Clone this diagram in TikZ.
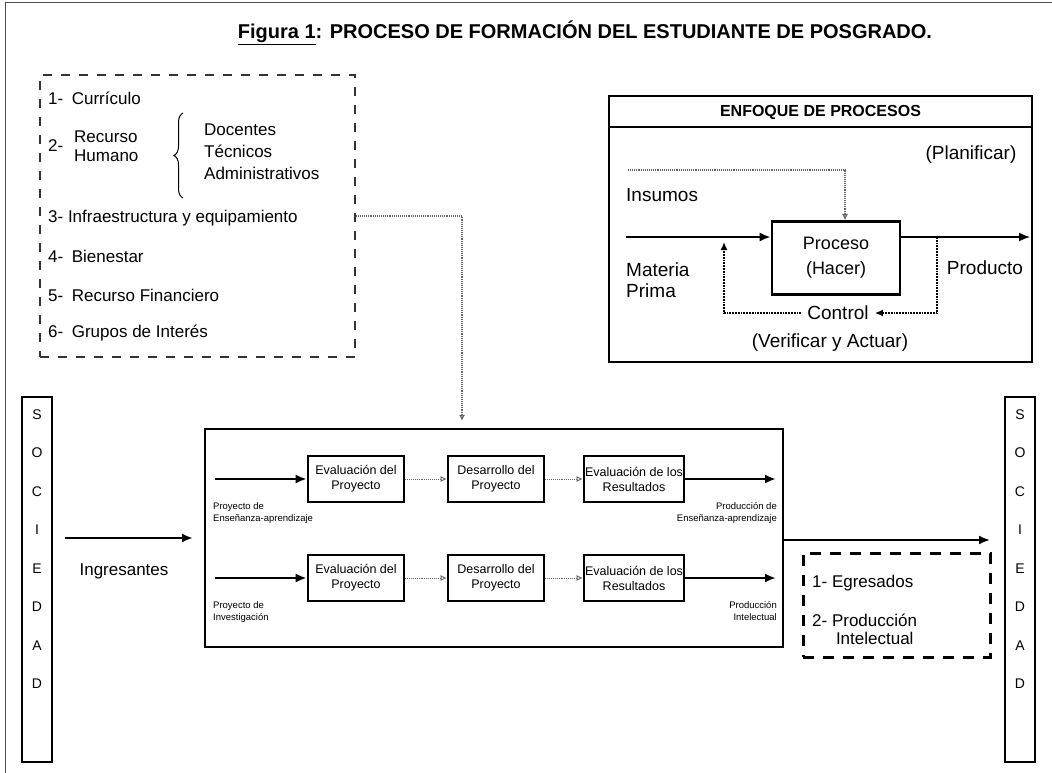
\documentclass[tikz,border=0pt]{standalone}
\usepackage{fontspec}
\setmainfont{Liberation Sans}
\usetikzlibrary{arrows.meta,positioning,decorations.pathreplacing}
\def\stagenode{\node[draw,line width=2.6pt,minimum width=96pt,minimum height=46pt,align=center,inner sep=1pt,font=\fontsize{12.5}{15}\selectfont]}
\def\socnode{\node[draw,line width=2.2pt,minimum width=30pt,minimum height=365pt,inner sep=0pt]}

\begin{document}
\begin{tikzpicture}[x=1pt,y=-1pt,
  txt/.style={font=\fontsize{17}{20}\selectfont,inner sep=0pt},
  big/.style={font=\fontsize{19}{22}\selectfont,inner sep=0pt},
  tiny/.style={font=\fontsize{9.5}{12}\selectfont,inner sep=0pt,align=left},
  flow/.style={line width=2.5pt,-{Latex[length=11pt,width=9pt]}},
  dotflow/.style={line width=1.8pt,densely dotted,-{Latex[length=8pt,width=7pt]}},
  faint/.style={line width=0.9pt,densely dotted,black!60,-{Latex[open,length=6pt,width=6pt]}}]
\useasboundingbox (0,0) rectangle (1052,773);
\draw[line width=1pt,black!70] (1052,3) -- (5,3) -- (5,773);

\node[font=\fontsize{20}{24}\selectfont\bfseries] (title) at (585,33) {\underline{Figura 1}: PROCESO DE FORMACIÓN DEL ESTUDIANTE DE POSGRADO.};

% recursos
\node[draw,line width=2.4pt,dash pattern=on 9pt off 9pt,black!80,minimum width=315pt,minimum height=282pt] (recursos) at (197.5,216) {};
\node[txt,anchor=west] (cur) at (48,98) {1-\enspace Currículo};
\node[txt,anchor=west] (dos) at (48,146) {2-};
\node[txt,anchor=west,align=left,font=\fontsize{17}{19}\selectfont] (rh) at (74,146) {Recurso\\Humano};
\draw[decorate,decoration={brace,amplitude=9pt},line width=1pt] (183,198) -- (183,113);
\node[txt,anchor=west,align=left,font=\fontsize{17}{22}\selectfont] (personal) at (204,152) {Docentes\\Técnicos\\Administrativos};
\node[txt,anchor=west] (infra) at (48,218) {3- Infraestructura y equipamiento};
\node[txt,anchor=west] (bien) at (48,256) {4-\enspace Bienestar};
\node[txt,anchor=west] (fin) at (48,295) {5-\enspace Recurso Financiero};
\node[txt,anchor=west] (gru) at (48,333) {6-\enspace Grupos de Interés};

% enfoque de procesos
\node[draw,line width=1.8pt,minimum width=423pt,minimum height=266pt,inner sep=0pt] (enfoque) at (820.5,229) {};
\node[font=\fontsize{16}{18}\selectfont\bfseries] (enfhead) at (820.5,112) {ENFOQUE DE PROCESOS};
\draw[line width=1.5pt] (enfoque.west |- 0,127) -- (enfoque.east |- 0,127);
\node[big] (planif) at (971,155) {(Planificar)};
\node[big,anchor=west] (insumos) at (626,195) {Insumos};
\node[draw,line width=2.6pt,minimum width=128pt,minimum height=73pt,align=center,font=\fontsize{18}{25}\selectfont] (proceso) at (836,258) {Proceso\\(Hacer)};
\node[big,anchor=west,align=left,font=\fontsize{19}{21}\selectfont] (materia) at (626,280) {Materia\\Prima};
\node[big] (producto) at (985,268) {Producto};
\node[big] (control) at (838,313) {Control};
\node[big] (verif) at (830,343) {(Verificar y Actuar)};
\coordinate (plan) at (628,170);
\coordinate (inp) at (626,237);
\coordinate (outp) at (1030,237);
\coordinate (fbtop) at (937,237);
\coordinate (fbend) at (724,242);
\draw[flow] (inp) -- (inp -| proceso.west);
\draw[flow,line width=1.5pt] (proceso.east |- outp) -- (outp);
\draw[faint,line width=1.3pt] (plan) -| ([xshift=9pt]proceso.north);
\draw[dotflow] (fbtop) |- ([xshift=6pt]control.east);
\draw[dotflow] ([xshift=-6pt]control.west) -| (fbend);

% sociedad
\socnode (socl) at (37,579.5) {};
\node[font=\fontsize{14}{38.5}\selectfont,align=center,anchor=north] (socltxt) at (37,406) {S\\O\\C\\I\\E\\D\\A\\D};
\socnode (socr) at (1020,579.5) {};
\node[font=\fontsize{14}{38.5}\selectfont,align=center,anchor=north] (socrtxt) at (1020,406) {S\\O\\C\\I\\E\\D\\A\\D};

% proceso de formacion
\node[draw,line width=2.6pt,minimum width=578pt,minimum height=218pt,inner sep=0pt] (formacion) at (494,538) {};
\coordinate (entry) at (462,421);
\draw[faint,line width=1.3pt] (recursos.east) -| (entry);

\stagenode (ev1) at (356,479) {Evaluación del\\Proyecto};
\stagenode (de1) at (496,479) {Desarrollo del\\Proyecto};
\stagenode (er1) at (634,479) {Evaluación de los\\Resultados};
\stagenode (ev2) at (356,578) {Evaluación del\\Proyecto};
\stagenode (de2) at (496,578) {Desarrollo del\\Proyecto};
\stagenode (er2) at (634,578) {Evaluación de los\\Resultados};
\coordinate (a1) at (215,479);
\coordinate (b1) at (776,479);
\coordinate (a2) at (215,578);
\coordinate (b2) at (776,578);
\draw[flow] (a1) -- (ev1);
\draw[faint] (ev1) -- (de1);
\draw[faint] (de1) -- (er1);
\draw[flow] (er1) -- (b1);
\draw[flow] (a2) -- (ev2);
\draw[faint] (ev2) -- (de2);
\draw[faint] (de2) -- (er2);
\draw[flow] (er2) -- (b2);
\node[tiny,anchor=north west] (pe1) at (213,502) {Proyecto de\\Enseñanza-aprendizaje};
\node[tiny,anchor=north east,align=right] (pr1) at (777,502) {Producción de\\Enseñanza-aprendizaje};
\node[tiny,anchor=north west] (pe2) at (213,601) {Proyecto de\\Investigación};
\node[tiny,anchor=north east,align=right] (pr2) at (777,601) {Producción\\Intelectual};

\coordinate (ingr) at (193,538);
\draw[flow] ([xshift=12pt]socl.east |- ingr) -- (ingr);
\node[txt] (ingl) at (124,571) {Ingresantes};

\coordinate (salida) at (990,540);
\draw[flow,line width=2pt] (formacion.east |- salida) -- (salida);
\node[draw,line width=3pt,dash pattern=on 11pt off 9pt,minimum width=187pt,minimum height=104pt] (egresos) at (896.5,605) {};
\node[txt,anchor=west] (egr) at (812,583) {1- Egresados};
\node[txt,anchor=west,align=left,font=\fontsize{17}{18}\selectfont] (prodint) at (812,629) {2- Producción\\\hspace{1.4em}Intelectual};
\end{tikzpicture}
\end{document}
